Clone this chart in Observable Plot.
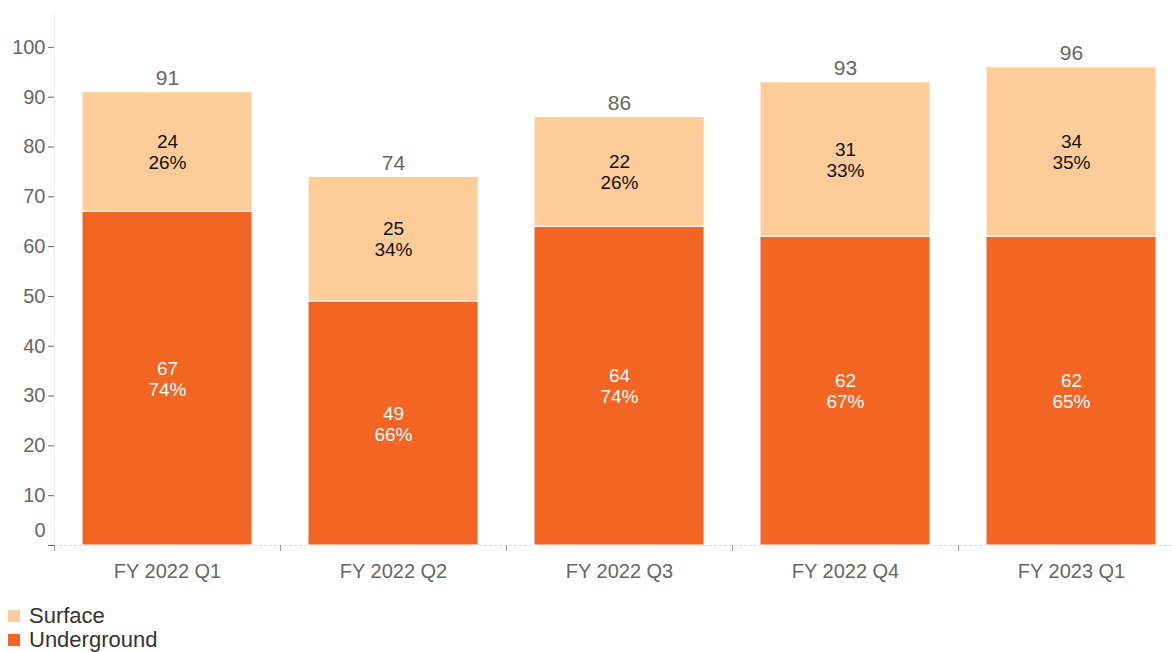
<!DOCTYPE html>
<html>
<head>
<meta charset="utf-8">
<script src="https://cdn.jsdelivr.net/npm/d3@7"></script>
<script src="https://cdn.jsdelivr.net/npm/@observablehq/plot@0.6"></script>
<style>
  body { margin: 0; background: #fff; font-family: "Liberation Sans", Arial, sans-serif; }
  #legend { margin-top: 14px; margin-left: 8px; font-size: 22px; color: #333; line-height: 24px; }
  .item { display: flex; align-items: center; }
  .sw { width: 12px; height: 12px; margin-right: 9px; }
</style>
</head>
<body>
<div id="chart"></div>
<div id="legend"></div>
<script>
const quarters = ["FY 2022 Q1", "FY 2022 Q2", "FY 2022 Q3", "FY 2022 Q4", "FY 2023 Q1"];
const underground = [67, 49, 64, 62, 62];
const surface = [24, 25, 22, 31, 34];
const totals = [91, 74, 86, 93, 96];
const undergroundPct = ["74%", "66%", "74%", "67%", "65%"];
const surfacePct = ["26%", "34%", "26%", "33%", "35%"];
const seriesNames = ["Underground", "Surface"];
const seriesColors = ["#f26522", "#fecc98"];
const yTicks = [0, 10, 20, 30, 40, 50, 60, 70, 80, 90, 100];

const rows = [];
quarters.forEach((q, i) => {
  rows.push({q, series: "Underground", value: underground[i], label: `${underground[i]}\n${undergroundPct[i]}`});
  rows.push({q, series: "Surface", value: surface[i], label: `${surface[i]}\n${surfacePct[i]}`});
});
const totalRows = quarters.map((q, i) => ({q, total: totals[i]}));

const xRange = [54, 1184];
const step = (xRange[1] - xRange[0]) / quarters.length;

const chart = Plot.plot({
  width: 1172,
  height: 590,
  marginTop: 12,
  marginLeft: 54,
  marginRight: 0,
  marginBottom: 45,
  style: {fontFamily: "Liberation Sans, Arial, sans-serif", fontSize: "20px", color: "#666", background: "#fff"},
  x: {domain: quarters, range: xRange, paddingInner: 0.25, paddingOuter: 0.125, label: null},
  y: {domain: [0, 107], label: null},
  color: {domain: seriesNames, range: seriesColors},
  marks: [
    Plot.ruleY([0], {stroke: "#ddd", strokeDasharray: "3,2"}),
    Plot.frame({anchor: "left", stroke: "#eee"}),
    Plot.barY(rows, Plot.stackY({x: "q", y: "value", fill: "series", order: seriesNames, stroke: "#fff", strokeWidth: 1})),
    Plot.text(rows, Plot.stackY({x: "q", y: "value", z: "series", order: seriesNames, text: d => d.series === "Surface" ? d.label : "", fill: "#111", lineHeight: 1.1, fontSize: 19})),
    Plot.text(rows, Plot.stackY({x: "q", y: "value", z: "series", order: seriesNames, text: d => d.series === "Underground" ? d.label : "", fill: "#fff", lineHeight: 1.1, fontSize: 19})),
    Plot.text(totalRows, {x: "q", y: "total", text: d => String(d.total), dy: -14, fill: "#666", fontSize: 21}),
    Plot.axisY({ticks: yTicks, tickSize: 6, tickPadding: 3, tickFormat: d => d === 0 ? "" : d, stroke: "#666", fill: "#666"}),
    Plot.text([0], {y: d => d, text: d => String(d), frameAnchor: "left", textAnchor: "end", dx: -9, dy: -15, fill: "#666"}),
    Plot.axisX({tickSize: 0, tickPadding: 18, fill: "#666"}),
    Plot.axisX({tickSize: 6, text: null, dx: -step / 2, stroke: "#999"})
  ]
});
document.getElementById("chart").appendChild(chart);

const legend = document.getElementById("legend");
[["Surface", seriesColors[1]], ["Underground", seriesColors[0]]].forEach(([name, col]) => {
  const it = document.createElement("div");
  it.className = "item";
  it.innerHTML = `<span class="sw" style="background:${col}"></span><span>${name}</span>`;
  legend.appendChild(it);
});
</script>
</body>
</html>
